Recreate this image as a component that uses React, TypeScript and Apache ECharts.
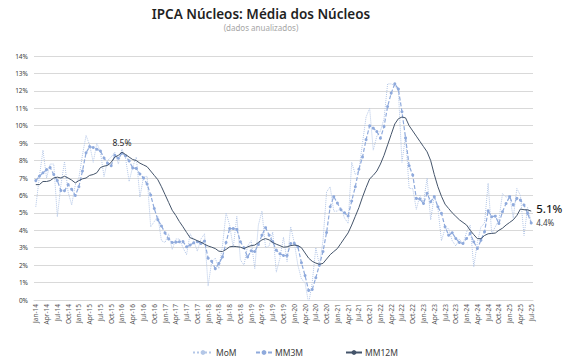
import React, { useEffect, useRef } from "react";
import * as echarts from "echarts";

const MONTHS = ["Jan", "Feb", "Mar", "Apr", "May", "Jun", "Jul", "Aug", "Sep", "Oct", "Nov", "Dec"];
const YEARS = ["14", "15", "16", "17", "18", "19", "20", "21", "22", "23", "24", "25"];
const LAST_MONTH_2025 = 7; // Jul-25

const categories: string[] = [];
YEARS.forEach((y, yi) => {
  const n = yi === YEARS.length - 1 ? LAST_MONTH_2025 : 12;
  for (let m = 0; m < n; m++) categories.push(`${MONTHS[m]}-${y}`);
});

// Monthly core inflation, annualized (%)
const mom: number[] = [
  5.35, 7.08, 8.6, 7.0, 7.8, 7.8, 4.78, 6.6, 7.94, 6.2, 5.45, 6.6,
  7.0, 8.32, 9.44, 8.9, 7.9, 9.0, 8.5, 7.08, 8.0, 8.2, 8.48, 7.8,
  8.67, 8.13, 6.8, 7.65, 8.2, 5.9, 7.05, 7.1, 4.2, 4.5, 4.8, 3.4,
  3.3, 3.8, 2.9, 3.5, 3.5, 3.0, 2.6, 3.8, 3.4, 2.8, 3.5, 3.8,
  0.8, 2.2, 2.4, 1.8, 3.1, 5.0, 4.3, 3.0, 4.8, 2.3, 2.0, 3.1,
  3.4, 1.8, 4.3, 5.1, 3.0, 3.1, 3.9, 1.6, 2.4, 3.6, 2.2, 4.2,
  3.3, 2.0, 1.2, 1.0, -0.2, 1.0, 3.0, 2.0, 3.4, 6.2, 6.5, 5.1,
  5.1, 5.3, 4.7, 4.4, 7.9, 7.2, 7.4, 9.0, 10.5, 11.0, 8.6, 9.4,
  9.7, 10.4, 12.4, 12.4, 12.3, 12.0, 7.9, 9.4, 6.4, 6.4, 5.2, 6.0,
  5.6, 7.0, 4.6, 6.0, 5.3, 3.4, 4.1, 4.1, 3.4, 3.1, 3.5, 3.2,
  3.9, 4.3, 1.9, 3.3, 4.2, 4.4, 6.7, 3.8, 4.2, 4.6, 6.1, 5.9,
  6.0, 4.7, 6.4, 6.0, 3.7, 5.3, 4.5,
];

// 3-month moving average, annualized (%)
const mm3m: number[] = [
  6.85, 7.1, 7.3, 7.48, 7.6, 7.2, 6.85, 6.28, 6.27, 6.62, 6.35, 6.0,
  6.5, 7.4, 8.45, 8.8, 8.75, 8.65, 8.55, 8.15, 7.84, 7.7, 8.3, 8.13,
  8.42, 8.27, 7.98, 7.58, 7.55, 7.23, 7.0, 6.65, 6.02, 5.25, 4.6, 4.25,
  3.85, 3.5, 3.3, 3.32, 3.34, 3.35, 3.05, 3.15, 3.28, 3.34, 3.24, 3.38,
  2.4, 2.22, 1.8, 2.1, 2.47, 3.3, 4.1, 4.1, 4.05, 3.34, 3.0, 2.47,
  2.82, 2.78, 3.18, 3.72, 4.15, 3.72, 3.34, 2.86, 2.65, 2.55, 2.55, 3.24,
  3.25, 3.05, 2.14, 1.4, 0.55, 0.6, 1.28, 2.0, 2.78, 3.87, 5.35, 5.93,
  5.56, 5.18, 5.0, 4.82, 5.68, 6.5, 7.5, 8.2, 9.2, 10.0, 9.86, 9.67,
  9.28, 9.95, 11.1, 11.87, 12.4, 12.1, 10.8, 9.3, 7.7, 7.17, 5.83, 5.79,
  5.54, 6.12, 5.64, 5.93, 5.35, 4.97, 4.2, 3.72, 3.86, 3.53, 3.3, 3.24,
  3.53, 3.82, 3.34, 2.95, 3.43, 3.91, 5.12, 4.78, 4.81, 4.39, 5.06, 5.54,
  5.93, 5.45, 5.83, 5.73, 5.45, 4.97, 4.42,
];

// 12-month accumulated (%)
const mm12m: number[] = [
  6.62, 6.62, 6.8, 6.8, 6.85, 7.0, 7.05, 7.0, 7.1, 7.0, 6.88, 6.72,
  6.85, 6.95, 7.0, 7.15, 7.2, 7.3, 7.6, 7.68, 7.72, 7.9, 8.2, 8.3,
  8.48, 8.35, 8.2, 8.06, 8.0, 7.85, 7.75, 7.65, 7.4, 7.15, 6.9, 6.5,
  6.05, 5.6, 5.15, 4.85, 4.5, 4.2, 3.88, 3.57, 3.5, 3.4, 3.32, 3.2,
  3.1, 3.03, 2.95, 2.8, 2.78, 2.9, 3.05, 3.08, 3.06, 3.03, 2.95, 3.05,
  3.12, 3.15, 3.3, 3.45, 3.52, 3.45, 3.3, 3.2, 3.12, 3.03, 3.05, 3.12,
  3.15, 3.12, 3.0, 2.7, 2.4, 2.22, 2.12, 2.05, 2.1, 2.35, 2.6, 2.78,
  2.95, 3.25, 3.55, 3.85, 4.3, 4.8, 5.3, 5.9, 6.45, 6.95, 7.15, 7.4,
  7.8, 8.3, 8.9, 9.5, 10.1, 10.4, 10.5, 10.45, 10.0, 9.7, 9.4, 9.1,
  8.8, 8.5, 8.0, 7.2, 6.5, 5.95, 5.5, 5.25, 5.0, 4.8, 4.6, 4.45,
  4.3, 4.0, 3.75, 3.52, 3.52, 3.7, 3.8, 3.82, 3.84, 4.0, 4.12, 4.3,
  4.45, 4.6, 4.85, 5.22, 5.18, 5.17, 5.1,
];

const PEAK_LABEL_INDEX = 24; // Jan-16

const TITLE = "IPCA Núcleos: Média dos Núcleos";
const SUBTITLE = "(dados anualizados)";

const FONT = "'Noto Sans', sans-serif";
const pct = (v: number) => `${v.toFixed(1)}%`;

export default function App() {
  const ref = useRef<HTMLDivElement>(null);

  useEffect(() => {
    if (!ref.current) return;
    const chart = echarts.init(ref.current, undefined, { renderer: "svg" });
    const lastIdx = categories.length - 1;

    const legendText = { fontFamily: FONT, fontSize: 8.5, color: "#404040", padding: [0, 0, 0, -2] };

    chart.setOption({
      animation: false,
      backgroundColor: "#ffffff",
      graphic: [
        {
          type: "text",
          x: 261,
          y: 7,
          style: {
            text: TITLE,
            fontFamily: FONT,
            fontSize: 13.5,
            fontWeight: 600,
            fill: "#1f1f1f",
            textAlign: "center",
            textVerticalAlign: "top",
          },
        },
        {
          type: "text",
          x: 261,
          y: 23,
          style: {
            text: SUBTITLE,
            fontFamily: FONT,
            fontSize: 8,
            fill: "#a6a6a6",
            textAlign: "center",
            textVerticalAlign: "top",
          },
        },
      ],
      legend: [
        { data: ["MoM"], left: 187, bottom: 2, itemWidth: 20, itemHeight: 6, textStyle: legendText },
        { data: ["MM3M"], left: 250, bottom: 2, itemWidth: 16, itemHeight: 6, textStyle: legendText },
        { data: ["MM12M"], left: 340, bottom: 2, itemWidth: 16, itemHeight: 6, textStyle: legendText },
      ],
      grid: { left: 34, right: 50, top: 56, bottom: 64 },
      xAxis: {
        type: "category",
        data: categories,
        boundaryGap: true,
        axisLine: { show: true, lineStyle: { color: "#d9d9d9" } },
        axisTick: { show: false },
        axisLabel: {
          interval: 2,
          rotate: 90,
          fontSize: 6.5,
          color: "#595959",
          fontFamily: FONT,
          margin: 4,
        },
      },
      yAxis: {
        type: "value",
        min: 0,
        max: 14,
        interval: 1,
        axisLine: { show: false },
        axisTick: { show: false },
        axisLabel: {
          formatter: "{value}%",
          fontSize: 6.5,
          color: "#404040",
          fontFamily: FONT,
          margin: 6,
        },
        splitLine: { lineStyle: { color: "#d9d9d9", width: 1 } },
      },
      series: [
        {
          name: "MoM",
          type: "line",
          data: mom,
          symbol: "none",
          color: "#b4c7e7",
          lineStyle: { width: 1, type: "dotted", color: "#b4c7e7" },
          z: 1,
          silent: true,
        },
        {
          name: "MM3M",
          type: "line",
          data: mm3m,
          symbol: "circle",
          symbolSize: 3,
          showAllSymbol: true,
          color: "#8faadc",
          itemStyle: { color: "#8faadc" },
          lineStyle: { width: 1.2, type: [4, 2], color: "#8faadc" },
          z: 2,
          silent: true,
          markPoint: {
            symbol: "circle",
            symbolSize: 0,
            silent: true,
            data: [
              {
                coord: [lastIdx, mm3m[lastIdx]],
                value: mm3m[lastIdx],
                label: {
                  show: true,
                  position: "right",
                  distance: 5,
                  formatter: () => pct(mm3m[lastIdx]),
                  fontSize: 8,
                  color: "#404040",
                  fontFamily: FONT,
                },
              },
            ],
          },
        },
        {
          name: "MM12M",
          type: "line",
          data: mm12m,
          symbol: "none",
          color: "#44546a",
          lineStyle: { width: 1, color: "#44546a" },
          z: 3,
          silent: true,
          markPoint: {
            symbol: "circle",
            symbolSize: 0,
            silent: true,
            data: [
              {
                coord: [PEAK_LABEL_INDEX, mm12m[PEAK_LABEL_INDEX]],
                value: mm12m[PEAK_LABEL_INDEX],
                label: {
                  show: true,
                  position: "top",
                  distance: 5,
                  formatter: () => pct(mm12m[PEAK_LABEL_INDEX]),
                  fontSize: 8.5,
                  color: "#262626",
                  fontFamily: FONT,
                },
              },
              {
                coord: [lastIdx, mm12m[lastIdx]],
                value: mm12m[lastIdx],
                label: {
                  show: true,
                  position: "right",
                  distance: 5,
                  offset: [0, -3],
                  formatter: () => pct(mm12m[lastIdx]),
                  fontSize: 11.5,
                  fontWeight: 500,
                  color: "#1a1a1a",
                  fontFamily: FONT,
                },
              },
            ],
          },
        },
      ],
    });

    return () => chart.dispose();
  }, []);

  return (
    <div
      ref={ref}
      style={{ position: "fixed", left: 0, top: 0, width: 583, height: 364 }}
    />
  );
}
